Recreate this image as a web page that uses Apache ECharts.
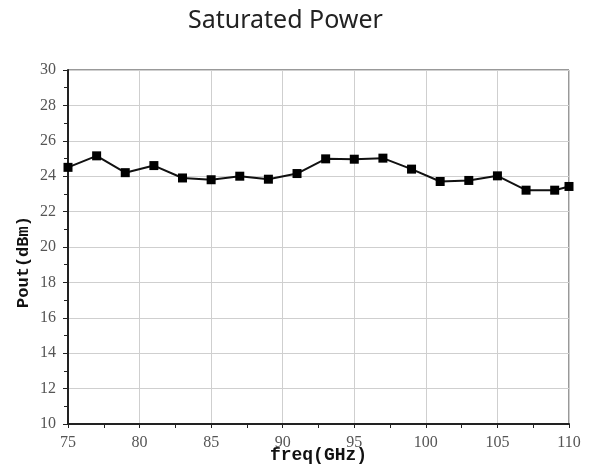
<!DOCTYPE html>
<html><head><meta charset="utf-8">
<script src="https://cdn.jsdelivr.net/npm/echarts@6/dist/echarts.min.js"></script>
<style>html,body{margin:0;padding:0;background:#fff}#c{width:589px;height:472px}</style>
</head><body><div id="c"></div>
<script>
var freq = [75,77,79,81,83,85,87,89,91,93,95,97,99,101,103,105,107,109,110];
var pout = [24.5,25.15,24.2,24.6,23.9,23.8,24.0,23.83,24.15,24.98,24.96,25.02,24.4,23.7,23.76,24.02,23.21,23.21,23.42];
var title = 'Saturated Power';
var xName = 'freq(GHz)';
var yName = 'Pout(dBm)';

var chart = echarts.init(document.getElementById('c'));
var labelFont = {color:'#555', fontFamily:'Liberation Serif', fontSize:16};
chart.setOption({
  animation:false,
  title:{text:title, left:183, top:3, textStyle:{fontFamily:'Noto Sans', fontWeight:'normal', fontSize:25, color:'#222'}},
  grid:{left:68, right:20, top:70, bottom:48, show:true, borderColor:'#333', borderWidth:1, outerBoundsMode:'none', containLabel:false},
  xAxis:{type:'value', min:75, max:110, interval:5,
    name:xName, nameLocation:'middle', nameGap:22, nameMoveOverlap:false,
    nameTextStyle:{fontFamily:'Liberation Mono', fontWeight:'bold', fontSize:18, color:'#111'},
    axisLine:{show:true, onZero:false, lineStyle:{color:'#222', width:2}},
    axisTick:{show:true, length:4, lineStyle:{color:'#222'}},
    minorTick:{show:true, splitNumber:2, length:4, lineStyle:{color:'#222'}},
    axisLabel:Object.assign({margin:11}, labelFont),
    splitLine:{show:true, lineStyle:{color:'#cfcfcf', width:1}}
  },
  yAxis:{type:'value', min:10, max:30, interval:2,
    name:yName, nameLocation:'middle', nameGap:36, nameMoveOverlap:false,
    nameTextStyle:{fontFamily:'Liberation Mono', fontWeight:'bold', fontSize:17, color:'#111', padding:[0,30,0,0]},
    axisLine:{show:true, lineStyle:{color:'#222', width:2}},
    axisTick:{show:true, length:5, lineStyle:{color:'#222'}},
    minorTick:{show:true, splitNumber:2, length:4, lineStyle:{color:'#222'}},
    axisLabel:Object.assign({margin:12}, labelFont),
    splitLine:{show:true, lineStyle:{color:'#cfcfcf', width:1}}
  },
  series:[{type:'line', data:freq.map(function(f,i){return [f,pout[i]];}),
    symbol:'rect', symbolSize:9, itemStyle:{color:'#000'},
    lineStyle:{color:'#111', width:2}, clip:false}]
});
</script></body></html>
